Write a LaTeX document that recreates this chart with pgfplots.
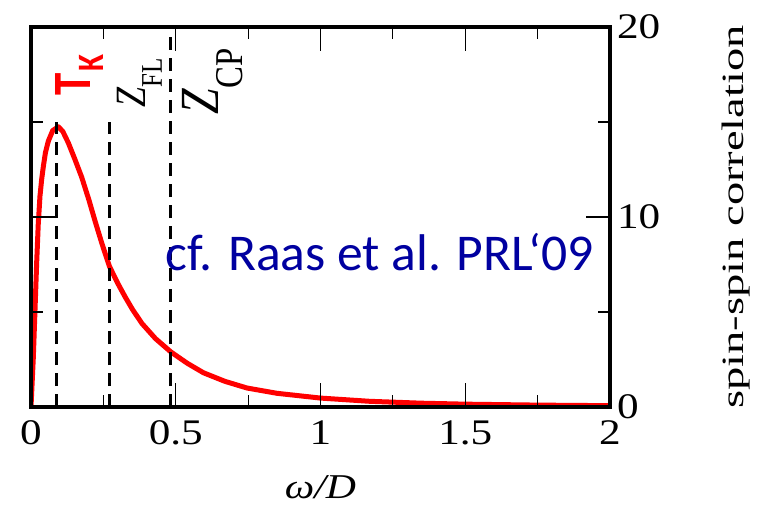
\documentclass[border=0pt]{standalone}
\usepackage{fontspec}
\setmainfont{Liberation Serif}
\newfontfamily\calibri{Carlito}
\usepackage{graphicx}
\usepackage{pgfplots}
\pgfplotsset{compat=1.18}
\definecolor{refblue}{RGB}{0,0,160}
\pgfplotstableread{
x y
0 0
0.004 1.3
0.008 2.6
0.0138 5.1
0.0196 7.6
0.025 9.6
0.031 11.1
0.037 12.0
0.043 12.7
0.05 13.4
0.06 14.0
0.075 14.55
0.0945 14.75
0.11 14.5
0.129 13.9
0.15 13.1
0.175 12.1
0.2 10.9
0.221 9.8
0.245 8.6
0.271 7.4
0.3 6.5
0.325 5.8
0.35 5.15
0.383 4.4
0.43 3.6
0.483 2.9
0.54 2.3
0.596 1.8
0.67 1.35
0.746 1.0
0.85 0.72
1.0 0.47
1.17 0.3
1.35 0.2
1.5 0.15
1.75 0.1
2.0 0.07
}\curvedata
\begin{document}
\begin{tikzpicture}
\begin{axis}[
  name=ax,
  scale only axis,
  width=289.5pt, height=190pt,
  xmin=0, xmax=2, ymin=0, ymax=20,
  xtick={0,0.5,1,1.5,2},
  ytick={0,10,20},
  minor x tick num=1, minor y tick num=1,
  yticklabel pos=right,
  xtick pos=both,
  ytick pos=both,
  tick align=inside,
  major tick length=12pt, minor tick length=6pt,
  every tick/.style={black, line width=0.6pt},
  axis line style={line width=2.3pt, line join=miter},
  axis on top,
  /pgf/number format/assume math mode=true,
  tick label style={font=\fontsize{18}{18}\selectfont},
  xticklabel={\scalebox{1.2}[1]{\pgfmathprintnumber{\tick}}},
  yticklabel={\scalebox{1.2}[1]{\pgfmathprintnumber{\tick}}},
  xticklabel style={yshift=-3.2pt},
  xlabel={\scalebox{1.2}[1]{\textit{ω/D}}},
  xlabel style={at={(axis description cs:0.5,-0.2395)}, anchor=base, inner sep=0pt, font=\fontsize{17.4}{17.4}\selectfont},
  ylabel={\scalebox{1.5}[1]{spin-spin correlation}},
  ylabel style={at={(axis description cs:1.2173,0.5)}, anchor=center, inner sep=0pt, font=\fontsize{15.5}{15.5}\selectfont},
]
\addplot[red, line width=2.5pt, line join=round] table[x=x, y=y] {\curvedata};
\addplot[black, line width=1.65pt, dash pattern=on 6.5pt off 4pt] coordinates {(0.089,0) (0.089,20)};
\addplot[black, line width=1.65pt, dash pattern=on 6.5pt off 4pt] coordinates {(0.271,0) (0.271,20)};
\fill[white] (axis cs:0.006,15) rectangle (axis cs:0.47,19.85);
\addplot[black, line width=1.65pt, dash pattern=on 6.5pt off 4pt] coordinates {(0.483,0) (0.483,20)};
\node[rotate=90, anchor=base west, inner sep=0pt, text=red, font=\calibri\bfseries\fontsize{22.5}{22.5}\selectfont]
  at (axis cs:0.2038,16.37) {\scalebox{1}[1.2]{T\kern1pt\raisebox{-5.8pt}{\fontsize{15.5}{15.5}\selectfont K}}};
\node[rotate=90, anchor=base west, inner sep=0pt, font=\fontsize{18}{18}\selectfont]
  at (axis cs:0.394,15.74) {\scalebox{1}[1.2]{\textit{Z}\raisebox{-7pt}{\fontsize{12.5}{12.5}\selectfont FL}}};
\node[rotate=90, anchor=base west, inner sep=0pt, font=\fontsize{23}{23}\selectfont]
  at (axis cs:0.646,15.37) {\scalebox{1}[1.2]{\textit{Z}\raisebox{-10pt}{\fontsize{16.4}{16.4}\selectfont CP}}};
\node[anchor=base west, inner sep=0pt, text=refblue, font=\calibri\fontsize{25.8}{25.8}\selectfont]
  at (axis cs:0.463,7.21) {cf. Raas et al. PRL‘09};
\end{axis}
\pgfresetboundingbox
\path ([shift={(-15.5pt,-50.5pt)}]ax.south west) rectangle ([shift={(76.5pt,13.5pt)}]ax.north east);
\end{tikzpicture}
\end{document}
